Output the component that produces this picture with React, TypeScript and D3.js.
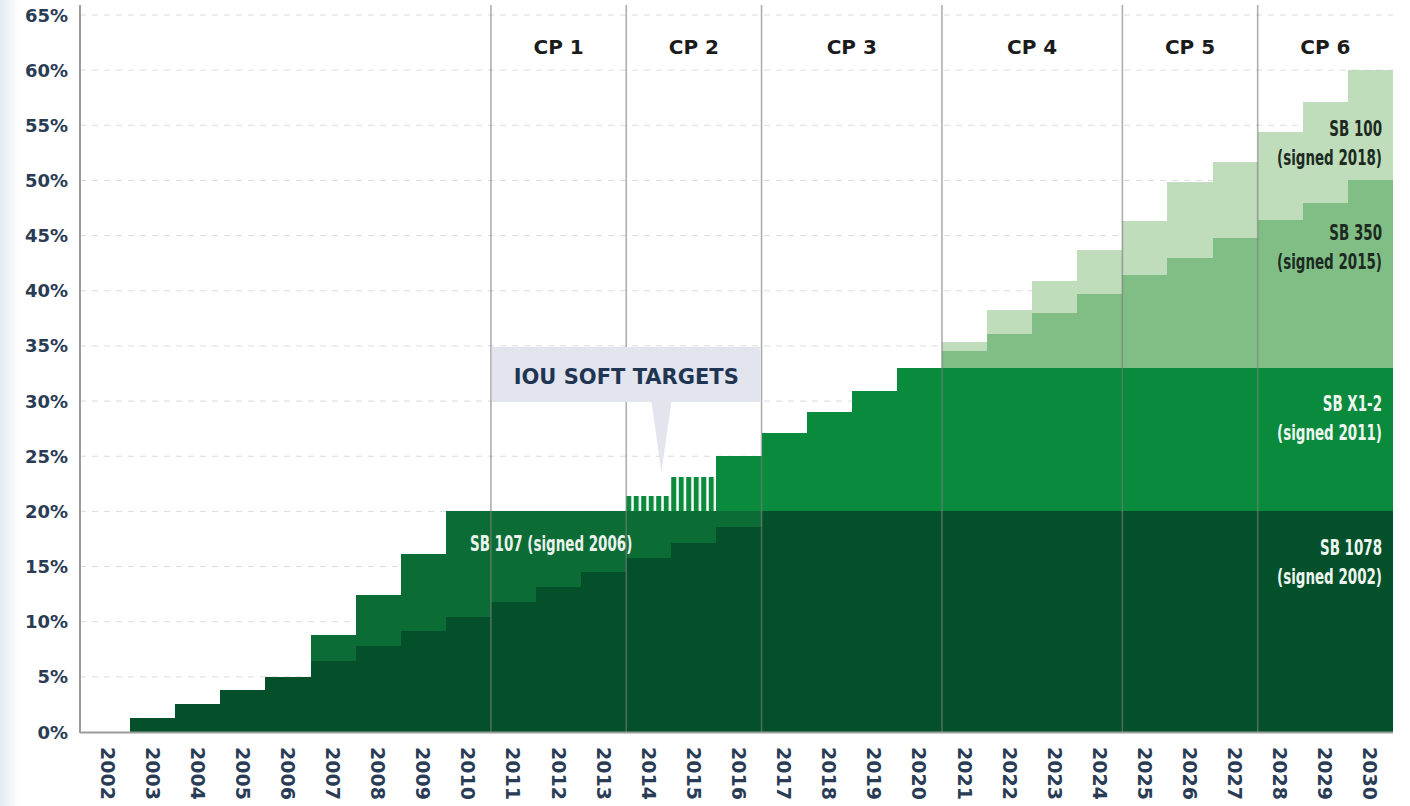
import * as d3 from "d3";

const years = [
  "2002", "2003", "2004", "2005", "2006", "2007", "2008", "2009", "2010", "2011",
  "2012", "2013", "2014", "2015", "2016", "2017", "2018", "2019", "2020", "2021",
  "2022", "2023", "2024", "2025", "2026", "2027", "2028", "2029", "2030",
];

// cumulative top (%) of each layer per year; null = layer absent that year
const sb1078 = [
  0, 1.3, 2.5, 3.8, 5.0, 6.4, 7.8, 9.2, 10.4, 11.8, 13.1, 14.5, 15.8, 17.1, 18.6,
  20, 20, 20, 20, 20, 20, 20, 20, 20, 20, 20, 20, 20, 20,
];
const sb107 = [
  null, null, null, null, null, 8.8, 12.4, 16.1, 20, 20, 20, 20, 20, 20, 20,
  null, null, null, null, null, null, null, null, null, null, null, null, null, null,
];
const iouSoft = [
  null, null, null, null, null, null, null, null, null, null, null, null, 21.4, 23.1, null,
  null, null, null, null, null, null, null, null, null, null, null, null, null, null,
];
const sbX12 = [
  null, null, null, null, null, null, null, null, null, null, null, null, null, null, 25,
  27.1, 29, 30.9, 33, 33, 33, 33, 33, 33, 33, 33, 33, 33, 33,
];
const sb350 = [
  null, null, null, null, null, null, null, null, null, null, null, null, null, null, null,
  null, null, null, null, 34.5, 36.1, 38.0, 39.7, 41.4, 43.0, 44.8, 46.4, 48.0, 50,
];
const sb100 = [
  null, null, null, null, null, null, null, null, null, null, null, null, null, null, null,
  null, null, null, null, 35.4, 38.3, 40.9, 43.7, 46.3, 49.9, 51.7, 54.4, 57.1, 60,
];

const yTicks = [0, 5, 10, 15, 20, 25, 30, 35, 40, 45, 50, 55, 60, 65];

const cpNames = ["CP 1", "CP 2", "CP 3", "CP 4", "CP 5", "CP 6"];
const cpStarts = ["2011", "2014", "2017", "2021", "2025", "2028"];

const rightLabels = [
  { title: "SB 100", sub: "(signed 2018)", at: 53.4, dark: true },
  { title: "SB 350", sub: "(signed 2015)", at: 44.0, dark: true },
  { title: "SB X1-2", sub: "(signed 2011)", at: 28.5, dark: false },
  { title: "SB 1078", sub: "(signed 2002)", at: 15.4, dark: false },
];

const W = 1410;
const H = 806;
const LEFT = 85;
const RIGHT = 1393;
const AXIS_X = 80;
const TOP_LINE = 5;

const NAVY = "#2a3c55";
const TICK_FONT = "'DejaVu Sans', Verdana, sans-serif";
const NARROW_FONT = "'DejaVu Sans Condensed', 'DejaVu Sans', sans-serif";
const SQUEEZE = 0.68;

const layers = [
  { key: "sb1078", values: sb1078, fill: "#03502a" },
  { key: "sb107", values: sb107, fill: "#0b6c35" },
  { key: "iou", values: iouSoft, fill: "url(#iouHatch)" },
  { key: "sbx12", values: sbX12, fill: "#0a8a3d" },
  { key: "sb350", values: sb350, fill: "#80be86" },
  { key: "sb100", values: sb100, fill: "#bfdcbb" },
];

export default function App() {
  const x = d3.scaleBand<string>().domain(years).range([LEFT, RIGHT]).padding(0);
  const y = d3.scaleLinear().domain([0, 65]).range([732, 15]);
  const bw = x.bandwidth();

  const rects: { key: string; x: number; y0: number; y1: number; fill: string }[] = [];
  years.forEach((yr, i) => {
    let base = 0;
    layers.forEach((layer) => {
      const v = layer.values[i];
      if (v == null) return;
      if (v > base) {
        rects.push({ key: `${layer.key}-${yr}`, x: x(yr) ?? 0, y0: base, y1: v, fill: layer.fill });
      }
      base = v;
    });
  });

  const cpX = cpStarts.map((s) => x(s) ?? 0);
  const cpEnds = [...cpX.slice(1), RIGHT];

  const boxX0 = x("2011") ?? 0;
  const boxX1 = x("2017") ?? 0;
  const tipX = (x("2014") ?? 0) + bw * 0.78;

  const narrow = (tx: number, ty: number, anchor: string, label: string, key: string) => (
    <text
      key={key}
      transform={`translate(${tx},${ty}) scale(${SQUEEZE},1)`}
      textAnchor={anchor}
      dominantBaseline="central"
      fontFamily={NARROW_FONT}
      fontWeight="bold"
      fontSize={22}
    >
      {label}
    </text>
  );

  return (
    <svg
      width={W}
      height={H}
      style={{ position: "absolute", left: 0, top: 0, background: "#fff" }}
    >
      <defs>
        <pattern
          id="iouHatch"
          patternUnits="userSpaceOnUse"
          x={x("2014")}
          y={0}
          width={7.5}
          height={10}
        >
          <rect x={0} y={0} width={7.5} height={10} fill="#ffffff" />
          <rect x={0} y={0} width={5} height={10} fill="#0a8a3d" />
        </pattern>
        <linearGradient id="edgeFade" x1="0" x2="1" y1="0" y2="0">
          <stop offset="0" stopColor="#e3ecf3" />
          <stop offset="1" stopColor="#ffffff" />
        </linearGradient>
      </defs>

      <rect x={0} y={0} width={20} height={H} fill="url(#edgeFade)" />

      {/* dashed grid */}
      {yTicks.slice(1).map((t) => (
        <line
          key={`g${t}`}
          x1={AXIS_X}
          x2={RIGHT}
          y1={y(t)}
          y2={y(t)}
          stroke="#dcdcdc"
          strokeWidth={1}
          strokeDasharray="6 6"
        />
      ))}

      {/* stacked steps */}
      <g shapeRendering="crispEdges">
        {rects.map((r) => (
          <rect
            key={r.key}
            x={r.x}
            y={y(r.y1)}
            width={bw}
            height={y(r.y0) - y(r.y1)}
            fill={r.fill}
          />
        ))}
      </g>

      {/* compliance period dividers */}
      {cpX.map((cx, i) => (
        <line
          key={`cp${i}`}
          x1={cx}
          x2={cx}
          y1={TOP_LINE}
          y2={732}
          stroke="#7c7c7c"
          strokeOpacity={0.62}
          strokeWidth={1.6}
        />
      ))}
      {cpNames.map((name, i) => (
        <text
          key={name}
          x={(cpX[i] + cpEnds[i]) / 2}
          y={47}
          textAnchor="middle"
          dominantBaseline="central"
          fontFamily={TICK_FONT}
          fontWeight="bold"
          fontSize={20}
          fill="#1b1b1b"
        >
          {name}
        </text>
      ))}

      {/* IOU soft targets callout */}
      <rect x={boxX0 + 1} y={347} width={boxX1 - boxX0 - 2} height={55} fill="#e2e5ee" />
      <path d={`M${tipX - 10},402 L${tipX + 10},402 L${tipX},472 Z`} fill="#e2e5ee" />
      <text
        x={x("2014")}
        y={377}
        textAnchor="middle"
        dominantBaseline="central"
        fontFamily={TICK_FONT}
        fontWeight="bold"
        fontSize={21}
        fill="#1f3553"
      >
        IOU SOFT TARGETS
      </text>

      {/* SB 107 label */}
      <g fill="#eaf3ec">{narrow(470, y(17.1), "start", "SB 107 (signed 2006)", "sb107")}</g>

      {/* right-hand law labels */}
      {rightLabels.map((l) => (
        <g key={l.title} fill={l.dark ? "#1c2a1f" : "#eef6f0"}>
          {narrow(1382, y(l.at + 1.32), "end", l.title, "t")}
          {narrow(1382, y(l.at - 1.32), "end", l.sub, "s")}
        </g>
      ))}

      {/* axes */}
      <line x1={AXIS_X} x2={AXIS_X} y1={TOP_LINE} y2={733} stroke="#9b9b9b" strokeWidth={2} />
      <line x1={AXIS_X} x2={RIGHT} y1={732.5} y2={732.5} stroke="#9b9b9b" strokeWidth={2} />

      {yTicks.map((t) => (
        <text
          key={`y${t}`}
          x={68}
          y={y(t)}
          textAnchor="end"
          dominantBaseline="central"
          fontFamily={TICK_FONT}
          fontWeight="bold"
          fontSize={18}
          fill={NAVY}
        >
          {`${t}%`}
        </text>
      ))}

      {years.map((yr) => (
        <text
          key={`x${yr}`}
          transform={`translate(${(x(yr) ?? 0) + bw / 2},${747}) rotate(90)`}
          textAnchor="start"
          dominantBaseline="central"
          fontFamily={TICK_FONT}
          fontWeight="bold"
          fontSize={19}
          fill={NAVY}
        >
          {yr}
        </text>
      ))}
    </svg>
  );
}
